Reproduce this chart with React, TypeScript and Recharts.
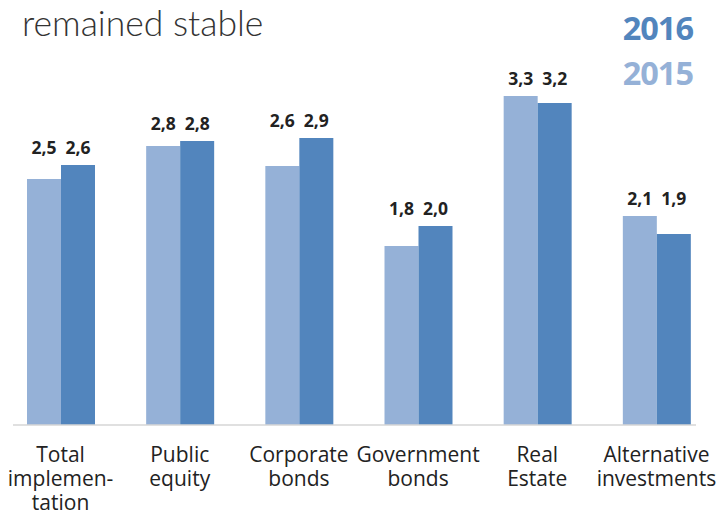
import React from "react";
import { BarChart, Bar, XAxis, YAxis, LabelList, ReferenceLine } from "recharts";

const categories = [
  "Total\nimplemen-\ntation",
  "Public\nequity",
  "Corporate\nbonds",
  "Government\nbonds",
  "Real\nEstate",
  "Alternative\ninvestments",
];
const values2015 = [2.46, 2.79, 2.59, 1.79, 3.29, 2.09];
const values2016 = [2.6, 2.84, 2.87, 1.99, 3.22, 1.91];
const titleText = "remained stable";
const legendLabels = ["2016", "2015"];

const LIGHT = "#95b1d7";
const DARK = "#5285bd";

const data = categories.map((c, i) => ({ name: c, y2015: values2015[i], y2016: values2016[i] }));

const fmt = (v: number) => v.toFixed(1).replace(".", ",");

const makeLabel = (own: number[]) => (props: any) => {
  const { x, y, width, height, index } = props;
  const v = own[index];
  const max = Math.max(values2015[index], values2016[index]);
  const base = y + height;
  const top = base - (height * max) / v;
  return (
    <text
      x={x + width / 2}
      y={top - 11}
      textAnchor="middle"
      fontFamily="'Open Sans', sans-serif"
      fontWeight={700}
      fontSize={17.5}
      fill="#222"
    >
      {fmt(v)}
    </text>
  );
};

const Tick = (props: any) => {
  const { x, y, payload } = props;
  const lines = String(payload.value).split("\n");
  return (
    <text x={x} y={y} textAnchor="middle" fontFamily="'Open Sans', sans-serif" fontSize={21} fill="#222">
      {lines.map((l, i) => (
        <tspan key={i} x={x} y={y + 29 + i * 24}>
          {l}
        </tspan>
      ))}
    </text>
  );
};

const AxisLineShape = (props: any) => {
  const { x1, y1, x2, y2 } = props;
  return <line x1={x1 + 12} y1={y1} x2={x2 - 20} y2={y2} stroke="#d6d6d6" strokeWidth={1.6} />;
};

export default function App() {
  return (
    <div style={{ position: "absolute", left: 0, top: 0, width: 719, height: 511, background: "#fff" }}>
      <div
        style={{
          position: "absolute",
          left: 22,
          top: 2,
          fontFamily: "Lato, sans-serif",
          fontWeight: 300,
          fontSize: 35.5,
          color: "#333",
          lineHeight: "42px",
          whiteSpace: "nowrap",
        }}
      >
        {titleText}
      </div>
      <div
        style={{
          position: "absolute",
          right: 26,
          top: 5,
          fontFamily: "'Open Sans', sans-serif",
          fontWeight: 700,
          fontSize: 32.5,
          color: DARK,
          lineHeight: "45px",
          textAlign: "right",
          letterSpacing: -1,
        }}
      >
        <div>{legendLabels[0]}</div>
        <div style={{ color: LIGHT }}>{legendLabels[1]}</div>
      </div>
      <BarChart
        width={719}
        height={511}
        data={data}
        margin={{ top: 25, right: 3, left: 1, bottom: 0 }}
        barGap={0}
        barSize={34}
      >
        <YAxis hide domain={[0, 4]} />
        <XAxis dataKey="name" axisLine={false} tickLine={false} height={86} interval={0} tick={<Tick />} />
        <ReferenceLine y={0} shape={<AxisLineShape />} />
        <Bar dataKey="y2015" fill={LIGHT} isAnimationActive={false}>
          <LabelList dataKey="y2015" content={makeLabel(values2015)} />
        </Bar>
        <Bar dataKey="y2016" fill={DARK} isAnimationActive={false}>
          <LabelList dataKey="y2016" content={makeLabel(values2016)} />
        </Bar>
      </BarChart>
    </div>
  );
}
